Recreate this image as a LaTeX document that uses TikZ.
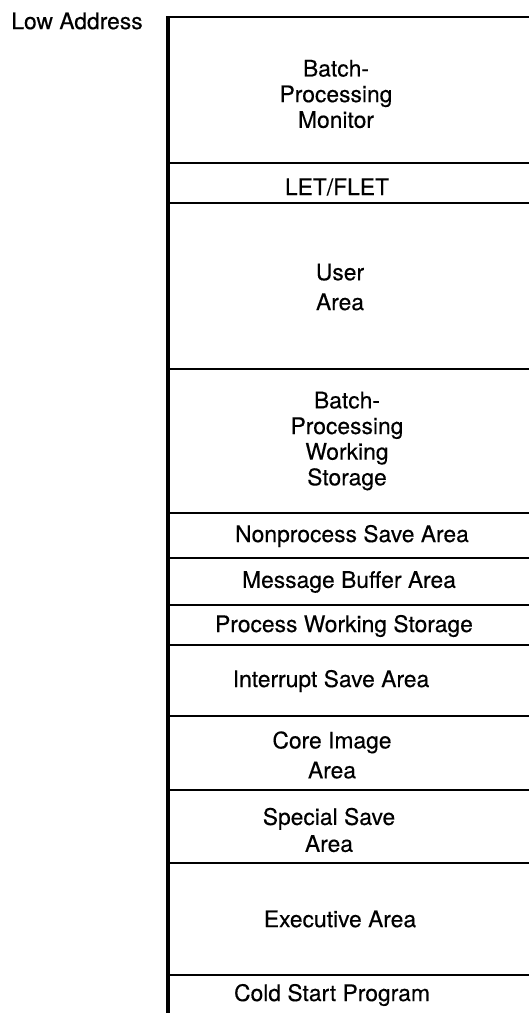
\documentclass[tikz,border=0pt]{standalone}
\usepackage{fontspec}
\setmainfont{TeX Gyre Heros}[FakeBold=0.3]
\tikzset{
  area/.style={align=center, inner sep=0pt, font=\fontsize{13}{14.6}\selectfont},
  divider/.style={line width=1.4pt},
  spine/.style={line width=2pt}
}
\begin{document}
\begin{tikzpicture}[x=0.02cm, y=-0.02cm]
\useasboundingbox (0,0) rectangle (529,1013);
% label at the top
\node[area] (low) at (77,21) {Low Address};
% the map itself
\foreach \y in {17,163,203,369,513,558,605,645,716,790,863,975}
  \draw[divider] (168,\y) -- (529,\y);
\draw[spine] (168,16.4) -- (168,1013);
\node[area] (monitor) at (336,94) {Batch-\\Processing\\Monitor};
\node[area] (letflet) at (337,187) {LET/FLET};
\node[area] (user) at (340,287) {User\\[2.4pt]Area};
\node[area] (bpws) at (347,441) {Batch-\\Processing\\Working\\Storage};
\node[area] (nonproc) at (352,536) {Nonprocess Save Area};
\node[area] (msgbuf) at (349,582) {Message Buffer Area};
\node[area] (procws) at (344,626) {Process Working Storage};
\node[area] (intsave) at (331,681) {Interrupt Save Area};
\node[area] (coreimg) at (332,755) {Core Image\\[2.4pt]Area};
\node[area] (special) at (329,830) {Special Save\\[0.7pt]Area};
\node[area] (exec) at (340,919) {Executive Area};
\node[area] (cold) at (332,995) {Cold Start Program};
\end{tikzpicture}
\end{document}
